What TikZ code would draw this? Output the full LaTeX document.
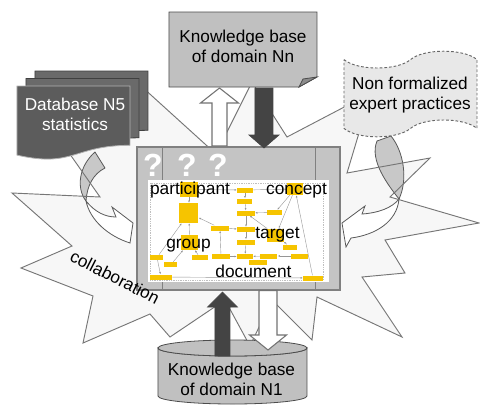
\documentclass[tikz,border=0pt]{standalone}
\usepackage{fontspec}
\setmainfont{Liberation Sans}
\usetikzlibrary{calc,arrows.meta}

\definecolor{burstfill}{RGB}{247,247,247}
\definecolor{burstline}{RGB}{118,118,118}
\definecolor{boxgray}{RGB}{192,192,192}
\definecolor{foldgray}{RGB}{140,140,140}
\definecolor{docfront}{RGB}{92,92,92}
\definecolor{docback}{RGB}{106,106,106}
\definecolor{darkarrow}{RGB}{68,68,68}
\definecolor{ribbon}{RGB}{200,200,200}
\definecolor{tapefill}{RGB}{232,232,232}
\definecolor{framegray}{RGB}{196,196,196}
\definecolor{gold}{RGB}{246,196,0}
\definecolor{wire}{RGB}{150,150,150}

\tikzset{
  lbl/.style={font=\fontsize{12.9}{15}\selectfont, align=center, inner sep=0pt},
  term/.style={font=\fontsize{13}{15}\selectfont, inner sep=0pt},
  qmark/.style={font=\fontsize{24}{24}\selectfont\bfseries, text=white, inner sep=0pt},
  ybox/.style={fill=gold, draw=none, inner sep=0pt},
  wirelink/.style={draw=wire, line width=0.3pt, -{Latex[length=1.6pt,width=1.4pt]}},
  ribbonback/.style={fill=ribbon, draw=black!65, line width=0.6pt, line join=round},
  ribbonfront/.style={fill=white, draw=black!65, line width=0.6pt, line join=miter},
  whitearrow/.style={fill=white, draw=black!55, line width=0.8pt, line join=miter},
  darkblock/.style={fill=darkarrow, draw=darkarrow, line width=0.5pt},
}
\newcommand\yb[5]{\node[ybox, minimum width=#4*0.75pt, minimum height=#5*0.75pt] (#1) at (#2,#3) {};}

\begin{document}
\begin{tikzpicture}[x=0.75pt,y=-0.75pt]
\useasboundingbox (0,0) rectangle (480,405);
\fill[white] (0,0) rectangle (480,405);

% explosion background
\fill[burstfill] (312,340) -- (272,300) -- (250,346) -- (225,300) -- (170,337) -- (150,314)
  -- (83,343) -- (93,296) -- (21,268) -- (72,246) -- (12,193) -- (100,197) -- (60,140)
  -- (130,76) -- (216,154) -- (252,82) -- (287,137) -- (371,93) -- (347,173) -- (430,158)
  -- (390,197) -- (479,223) -- (385,240) -- (405,273) -- (362,277) -- (402,337) -- (317,297) -- cycle;

% left twisted ribbon arrow: back side (grey) then front side with head (white)
\draw[ribbonback] (95,152) .. controls (79,166) and (76,188) .. (86,201)
  .. controls (87,186) and (93,174) .. (105,168) -- cycle;
\draw[ribbonfront] (86,201) .. controls (90,220) and (108,236) .. (130,243) -- (133,223)
  -- (112,207) -- (116,217) .. controls (105,217) and (95,212) .. (86,201) -- cycle;

% right twisted ribbon arrow
\draw[ribbonback] (391,136) .. controls (404,152) and (408,180) .. (399,199)
  .. controls (388,185) and (369,160) .. (377,141) -- cycle;
\draw[ribbonfront] (399,199) .. controls (397,222) and (375,235) .. (351,238) -- (346,247)
  -- (342,223) -- (365,206) -- (362,214) .. controls (378,213) and (392,208) .. (399,199) -- cycle;

% explosion outline
\draw[burstline, line width=0.7pt, line join=miter] (312,340) -- (272,300) -- (250,346) -- (225,300) -- (170,337) -- (150,314)
  -- (83,343) -- (93,296) -- (21,268) -- (72,246) -- (12,193) -- (100,197) -- (60,140)
  -- (130,76) -- (216,154) -- (252,82) -- (287,137) -- (371,93) -- (347,173) -- (430,158)
  -- (390,197) -- (479,223) -- (385,240) -- (405,273) -- (362,277) -- (402,337) -- (317,297) -- cycle;

% application window
\filldraw[fill=framegray, draw=black!50, line width=0.8pt] (137,147) rectangle (340,290);
\draw[black!50, line width=0.7pt] (162,147) -- (162,290) (315,147) -- (315,290);
\fill[white] (148,180) rectangle (329,282);
\draw[black!25, densely dotted, line width=0.3pt] (150,183) rectangle (323,280);
\node[qmark] (q1) at (153,165) {?};
\node[qmark] (q2) at (187,165) {?};
\node[qmark] (q3) at (218,165) {?};

% small schema inside the window
\yb{bPart}{189}{189.5}{18}{15}
\yb{bBig}{189}{213}{19}{20}
\yb{bGroup}{189.5}{242.5}{17}{15}
\yb{bConcept}{295}{189}{16}{12}
\yb{bTarget}{276}{235}{17}{13}
\yb{b1}{245}{190}{16}{5}
\yb{b2}{245}{201}{15}{5}
\yb{b3}{246}{213}{18}{5}
\yb{b4}{275}{212.5}{15}{5}
\yb{b7}{220}{228}{18}{5}
\yb{b8}{246}{229.5}{18}{5}
\yb{b10}{246}{242}{18}{5}
\yb{b11}{290}{247}{14}{5}
\yb{b13}{157}{257.5}{13}{5}
\yb{b14}{171}{264.5}{13}{5}
\yb{b15}{200}{257.5}{16}{5}
\yb{b16}{221}{256.5}{18}{5}
\yb{b17}{245}{256.5}{16}{5}
\yb{b18}{269}{256}{17}{5}
\yb{b19}{300}{256}{17}{5}
\yb{b20}{258}{262}{18}{5}
\yb{b21}{161}{277}{22}{5}
\yb{b22}{313}{278}{20}{5}

\draw[wirelink] (b1) -- (b2);
\draw[wirelink] (b2) -- (b3);
\draw[wirelink] (b3) -- (b8);
\draw[wirelink] (b8) -- (b10);
\draw[wirelink] (b10) -- (b17);
\draw[wirelink] (bPart) -- (bBig);
\draw[wirelink] (bGroup) -- (bBig);
\draw[wirelink] (b7) -- (bBig);
\draw[wirelink] (b7) -- (b8);
\draw[wirelink] (b4) -- (b3);
\draw[wirelink] (bConcept) -- (b4);
\draw[wirelink] (bConcept) -- (bTarget);
\draw[wirelink] (b13) -- (bBig);
\draw[wirelink] (b13) -- (b21);
\draw[wirelink] (b14) -- (bGroup);
\draw[wirelink] (b15) -- (bGroup);
\draw[wirelink] (b16) -- (b17);
\draw[wirelink] (b18) -- (b17);
\draw[wirelink] (b19) -- (b18);
\draw[wirelink] (b11) -- (bTarget);
\draw[wirelink] (bTarget) -- (b3);
\draw[wirelink] (b16) -- (b7);
\draw[wirelink] (b21) -- (b22);
\draw[wirelink] (b22) -- (bConcept);
\draw[wirelink] (bPart) -- (b1);
\draw[wirelink] (b1) -- (bConcept);

\node[term, anchor=base] (tPart) at (190,194) {participant};
\node[term, anchor=base] (tConcept) at (296.5,194) {concept};
\node[term, anchor=base] (tGroup) at (188.5,248) {group};
\node[term, anchor=base] (tTarget) at (277.5,238) {target};
\node[term, anchor=base] (tDoc) at (253.5,277) {document};

% knowledge base of domain Nn (folded sheet)
\filldraw[fill=boxgray, draw=black!70, line width=0.6pt] (169,12) -- (317,12) -- (317,77) -- (299,87) -- (169,87) -- cycle;
\filldraw[fill=foldgray, draw=black!70, line width=0.6pt] (299,87) -- (303,79) -- (317,77) -- cycle;
\node[lbl] (kbn) at (243,46) {Knowledge base\\of domain Nn};

% stacked database documents
\filldraw[fill=docback, draw=black!75, line width=0.6pt] (35,71) -- (148,71) -- (148,130.3)
  .. controls (91.5,130.3) and (91.5,153) .. (35,140.1) -- cycle;
\filldraw[fill=docback, draw=black!75, line width=0.6pt] (26,78.5) -- (139,78.5) -- (139,137.8)
  .. controls (82.5,137.8) and (82.5,160.5) .. (26,147.6) -- cycle;
\filldraw[fill=docfront, draw=black!30, line width=0.6pt] (17,86) -- (130,86) -- (130,145.3)
  .. controls (73.5,145.3) and (73.5,168) .. (17,155.1) -- cycle;
\node[lbl, text=white] (dbn) at (75,114.5) {Database N5\\statistics};

% non formalized practices (punched tape)
\filldraw[fill=tapefill, draw=black!60, line width=0.7pt, dash pattern=on 2pt off 1.5pt]
  (344,59.6) .. controls (357.3,70.8) and (397.2,70.8) .. (410.5,59.6)
  .. controls (423.8,48.4) and (463.7,48.4) .. (477,59.6) -- (477,128.4)
  .. controls (463.7,117.2) and (423.8,117.2) .. (410.5,128.4)
  .. controls (397.2,139.6) and (357.3,139.6) .. (344,128.4) -- cycle;
\node[lbl] (nfp) at (410,95.5) {Non formalized\\expert practices};

% knowledge base of domain N1 (cylinder)
\filldraw[fill=boxgray, draw=black!70, line width=0.6pt] (158,348) -- (158,396)
  arc[start angle=180, end angle=0, x radius=74.5, y radius=8] -- (307,348)
  arc[start angle=0, end angle=180, x radius=74.5, y radius=8] -- cycle;
\filldraw[fill=boxgray, draw=black!70, line width=0.6pt] (232.5,348) ellipse [x radius=74.5, y radius=8];
\node[lbl] (kb1) at (231.5,379) {Knowledge base\\of domain N1};

% block arrows between the window and the knowledge bases
\coordinate (wuFrom) at (219.5,146);
\coordinate (wuTo) at (219.5,88);
\coordinate (ddFrom) at (264,88);
\coordinate (ddTo) at (264,148);
\coordinate (duFrom) at (222.5,356);
\coordinate (duTo) at (222.5,292);
\coordinate (wdFrom) at (268,290.5);
\coordinate (wdTo) at (268,350);

\draw[whitearrow] ($(wuFrom)+(-7.5,0)$) -- ($(wuTo)+(-7.5,15)$) -- ($(wuTo)+(-19,15)$) -- (wuTo)
  -- ($(wuTo)+(19,15)$) -- ($(wuTo)+(7.5,15)$) -- ($(wuFrom)+(7.5,0)$) -- cycle;
\draw[darkblock] ($(ddFrom)+(-9,0)$) -- ($(ddTo)+(-9,-13)$) -- ($(ddTo)+(-15,-13)$) -- (ddTo)
  -- ($(ddTo)+(15,-13)$) -- ($(ddTo)+(9,-13)$) -- ($(ddFrom)+(9,0)$) -- cycle;
\draw[darkblock] ($(duFrom)+(-7.5,0)$) -- ($(duTo)+(-7.5,15)$) -- ($(duTo)+(-15,15)$) -- (duTo)
  -- ($(duTo)+(15,15)$) -- ($(duTo)+(7.5,15)$) -- ($(duFrom)+(7.5,0)$) -- cycle;
\draw[whitearrow] ($(wdFrom)+(-9,0)$) -- ($(wdTo)+(-9,-15)$) -- ($(wdTo)+(-18.5,-15)$) -- (wdTo)
  -- ($(wdTo)+(18.5,-15)$) -- ($(wdTo)+(9,-15)$) -- ($(wdFrom)+(9,0)$) -- cycle;

% label across the explosion
\node[lbl, rotate=-27] (collab) at (115,277) {collaboration};
\end{tikzpicture}
\end{document}
